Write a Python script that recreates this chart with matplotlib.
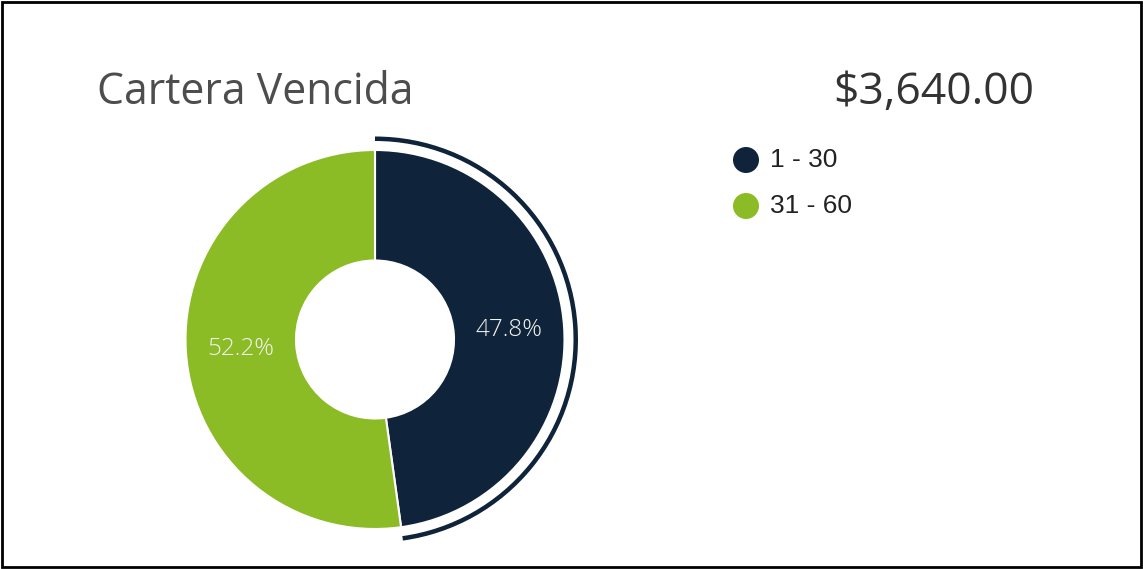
import matplotlib
matplotlib.use("Agg")
import matplotlib.pyplot as plt
from matplotlib.patches import Wedge, Rectangle, Circle
import math

categories = ["1 - 30", "31 - 60"]
values = [1740, 1900]
colors = ["#0f233a", "#8bbb25"]
title = "Cartera Vencida"
total_label = "$3,640.00"

W, H = 1143, 569
fig = plt.figure(figsize=(W / 100, H / 100), dpi=100)
ax = fig.add_axes([0, 0, 1, 1])

cx, cy = 375, H - 339.5
R, r_in = 189.5, 79
total = sum(values)
wedges, texts = ax.pie(values, colors=colors, startangle=90, counterclock=False,
                       center=(cx, cy), radius=R,
                       wedgeprops=dict(width=R - r_in, edgecolor="white", linewidth=1.5))
ax.set_xlim(0, W)
ax.set_ylim(0, H)
ax.set_aspect("equal")
ax.axis("off")

# border
ax.add_patch(Rectangle((2, 2), W - 4, H - 4, fill=False, edgecolor="black", linewidth=2))

# percentage labels
start = 90.0
for v, c in zip(values, colors):
    frac = v / total
    mid = start - frac * 180
    rm = (R + r_in) / 2
    x = cx + rm * math.cos(math.radians(mid))
    y = cy + rm * math.sin(math.radians(mid))
    ax.text(x, y, f"{frac*100:.1f}%", ha="center", va="center", fontsize=17.5,
            family="Open Sans", fontweight="light", color="#f2f2f2")
    start -= frac * 360

# highlight arc around first slice
frac0 = values[0] / total
ax.add_patch(Wedge((cx, cy), 203, 90 - frac0 * 360, 90, width=4.5,
                   facecolor=colors[0], edgecolor="none"))

# title and total
ax.text(97, H - 104, title, fontsize=30.8, family="Open Sans",
        color="#4d4d4d", ha="left", va="baseline")
ax.text(1034, H - 104, total_label, fontsize=32, family="Open Sans",
        color="#333333", ha="right", va="baseline")

# legend
for i, (lab, col) in enumerate(zip(categories, colors)):
    y = H - (160 + i * 46)
    ax.add_patch(Circle((746, y), 13, facecolor=col, edgecolor="none"))
    ax.text(770, y, lab, fontsize=19, family="Liberation Sans", color="#222222",
            ha="left", va="center")

fig.savefig("out.png", dpi=100)
